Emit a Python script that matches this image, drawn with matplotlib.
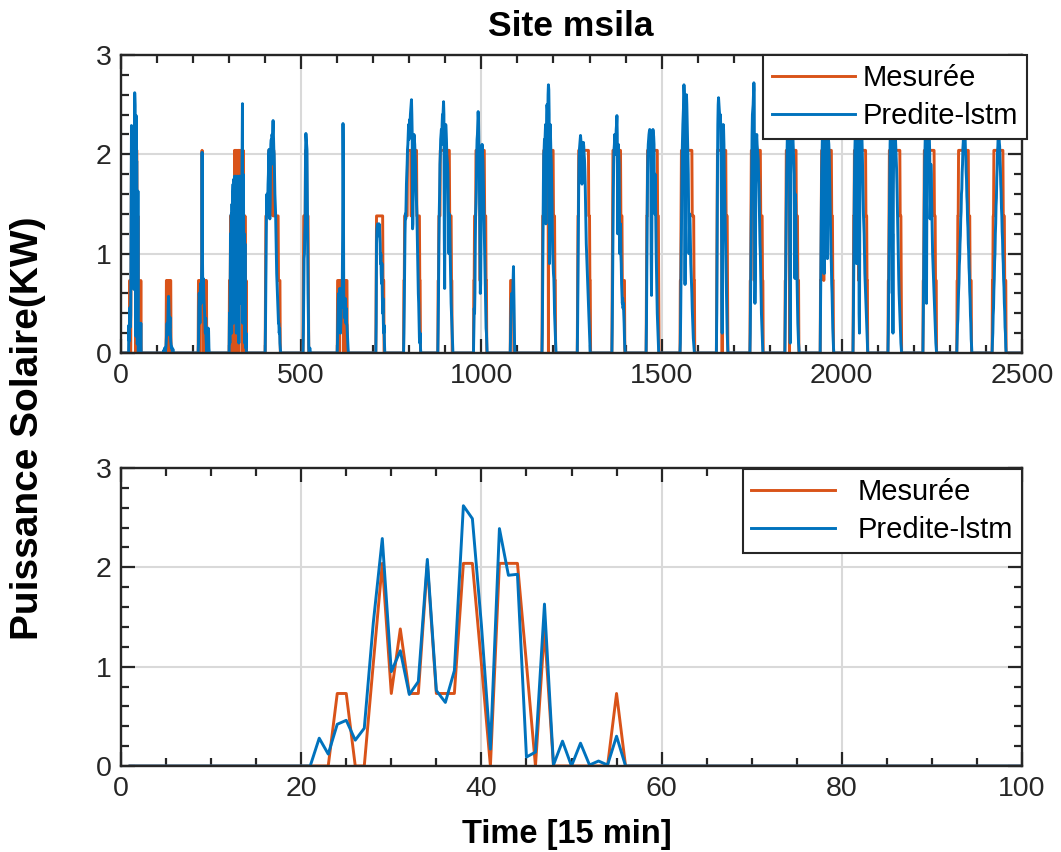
import matplotlib
matplotlib.use('Agg')
import matplotlib.pyplot as plt
import numpy as np
from matplotlib.ticker import MultipleLocator


plt.rcParams['font.family'] = ['Liberation Sans', 'DejaVu Sans']

# Measured power is quantised: each code digit picks one of these levels (KW).
levels = [0.0, 0.73, 1.03, 1.38, 2.04]
n_points = 2496

# First time index of each daily production bump.
day_start = [18, 114, 210, 300, 400, 505, 600, 707, 784, 879, 978, 1080, 1168,
             1266, 1362, 1457, 1551, 1652, 1745, 1842, 1940, 2031, 2128, 2225,
             2319, 2417]

# Measured series, one level code per 15 min step, starting at day_start.
measured_codes = [
    "000000110024131141114420444203000000010000",
    "000000000000" "1110110111011" "00000",
    "00000" "1111011" "11" "1" "4" "1" "11011110111" "0",
    "0101313031" "3303143144" "0434144043" "4414434404" "3130310100",
    "01" "33333333" "444434444444344" "333333333333" "11111" "0",
    "0133333444433331000",
    "011111011111111110111111011100000",
    "0133333333333333333311100",
    "011" "33333333" "44444444443344444444444444" "33333333" "11" "0",
    "0113333" "44444444444444444444444444" "33333" "1100",
    "0113333" "444444444441144444444444" "3333" "110",
    "0111111111000",
    "01333" "444444444444404444444444444" "3333" "11" "0",
    "0133" "4444444444444444444444444444" "333" "110",
    "013" "4444444444444444444444" "3333" "1111111" "0",
    "0133" "4444444444444444444444444444" "333" "10",
    "0113" "444444444444444444444444444444" "33333" "110",
    "013" "444444444444404444444444" "3333" "10",
    "0113" "44444444144444444444444444" "33333" "110",
    "0113" "4444444440444444444444444444" "3333" "1110",
    "0113" "4444441444444444444444444444" "333" "110",
    "0133" "44444444444414444444444444444444" "333" "110",
    "0113" "444444444444444444444444444444" "333" "10",
    "0113" "4444444444444444444444444444" "333" "1110",
    "01133" "4444444444444444444444444444" "3333" "11110",
    "01133" "44444444444444444444444444" "3333" "11110",
]

# LSTM prediction in hundredths of KW, starting at day_start.
predicted_hundredths = [
    "0 0 0 0 28 12 42 46 26 38 144 229 95 116 72 85 208 76 64 96 262 249 142 "
    "17 239 192 193 9 14 163 1 25 0 23 1 5 1 30 0 0 0 0",
    "0 0 0 0 0 3 0 5 2 0 4 8 15 22 30 18 35 48 57 42 30 25 36 20 12 8 5 6 3 0 4",
    "0 0 0 0 0 10 45 60 55 30 62 70 50 65 90 202 100 60 75 70 55 48 40 30 20 "
    "35 15 8 0 12 25 20 25 22 5 0",
    "0 40 10 60 120 50 140 20 150 60 160 170 30 175 80 178 120 60 178 170 20 "
    "175 130 178 40 175 170 10 178 120 178 175 50 176 178 140 200 251 30 180 "
    "150 40 120 10 110 30 5 20 0 0",
    "0 30 80 120 150 160 140 150 170 180 200 205 140 135 150 200 210 215 190 "
    "220 215 225 234 220 205 200 180 160 150 140 120 100 80 70 60 50 40 30 30 "
    "20 25 10 5 0",
    "0 20 60 95 100 120 130 200 221 215 210 205 150 110 60 30 5 0 3 5 2 0",
    "0 20 45 55 60 30 50 65 40 20 30 45 60 55 70 120 231 180 60 45 50 35 55 40 "
    "30 45 30 28 20 10 5 0",
    "0 30 110 125 128 130 125 118 122 130 128 120 110 90 100 80 70 90 60 40 55 "
    "30 20 28 10 0",
    "0 20 50 90 120 140 135 150 170 180 190 205 210 220 230 215 225 235 230 240 "
    "245 250 255 240 220 125 130 180 210 220 215 210 200 190 175 160 150 140 "
    "120 100 80 60 50 30 15 10 20 5 0",
    "0 25 60 110 140 160 190 200 215 220 225 210 230 240 235 245 253 240 120 65 "
    "150 220 230 225 215 200 195 190 180 150 120 100 140 130 110 90 70 50 40 "
    "30 20 10 0",
    "0 20 45 40 60 110 140 150 165 200 215 220 230 243 235 210 200 150 110 60 "
    "70 120 190 205 210 200 195 180 160 140 120 100 80 60 40 25 20 10 0",
    "0 20 40 55 60 55 50 60 75 87 60 30 10 0",
    "0 20 70 130 170 200 205 215 210 220 230 130 200 240 250 245 230 260 270 "
    "265 240 90 180 230 215 200 190 170 150 120 100 90 80 75 60 40 30 20 10 0",
    "0 30 80 130 170 195 205 210 215 219 215 210 200 170 175 205 210 212 208 "
    "200 195 185 170 150 130 110 100 90 80 70 60 50 40 30 20 10 0",
    "0 25 70 120 160 190 205 210 220 215 200 210 225 230 239 220 120 150 210 "
    "200 190 150 100 110 130 100 90 70 60 50 55 45 50 40 30 15 5 0",
    "0 30 90 140 180 200 210 215 220 223 225 224 220 200 100 58 120 200 220 225 "
    "222 218 210 150 140 180 160 130 100 80 60 40 30 20 10 0",
    "0 10 40 80 130 170 200 215 230 240 250 270 260 180 69 150 230 240 260 250 "
    "230 215 200 180 140 100 120 140 130 110 90 80 70 60 45 35 25 15 10 5 0",
    "0 40 120 180 230 250 257 250 245 240 235 240 230 200 150 60 20 90 200 230 "
    "225 210 180 160 140 120 100 80 60 40 20 10 0",
    "0 20 60 100 150 190 220 240 245 250 260 272 265 120 50 80 150 200 215 220 "
    "210 205 200 195 180 170 150 130 110 100 80 60 40 30 20 10 0",
    "0 30 70 110 150 180 200 220 230 240 235 230 245 200 80 10 120 210 230 240 "
    "245 235 225 210 200 190 180 120 75 160 150 120 100 90 70 50 30 20 10 5 0",
    "0 40 90 140 180 200 215 225 235 240 140 80 150 220 230 240 245 240 230 120 "
    "95 180 220 215 210 200 180 160 140 120 100 90 70 60 40 25 15 5 0",
    "0 30 80 130 170 200 215 225 235 230 90 140 200 230 235 240 180 40 20 150 "
    "220 230 240 235 225 215 200 180 160 140 130 120 100 80 70 60 50 40 30 20 "
    "10 0",
    "0 20 60 110 150 190 210 225 235 240 230 150 60 120 20 160 210 230 240 238 "
    "225 215 205 195 185 170 150 130 110 90 75 60 50 40 30 20 10 5 0",
    "0 30 70 110 150 190 210 225 230 180 50 150 215 230 240 238 230 225 215 200 "
    "135 150 190 180 160 140 120 100 90 80 70 60 50 40 30 20 10 5 0",
    "0 15 28 34 50 62 70 88 95 110 118 135 142 160 165 182 190 206 212 224 226 "
    "232 224 220 205 198 182 175 158 150 134 126 110 102 86 78 62 54 38 30 14 "
    "8 0",
    "0 12 20 38 45 64 74 92 100 120 130 148 156 176 185 202 208 220 221 222 212 "
    "208 194 186 170 162 146 138 122 114 98 90 74 66 50 42 26 20 6 0",
]

series_labels = ['Mesurée', 'Predite-lstm']
zoom_points = 100

measured_color = '#D95319'
predicted_color = '#0072BD'
axis_color = '#262626'


def build_series():
    measured = np.zeros(n_points)
    predicted = np.zeros(n_points)
    for start, codes, pred in zip(day_start, measured_codes, predicted_hundredths):
        values = np.array([levels[int(c)] for c in codes])
        measured[start - 1:start - 1 + len(values)] = values
        values = np.array(pred.split(), dtype=float) / 100
        predicted[start - 1:start - 1 + len(values)] = values
    return measured, predicted


def style_axes(ax, x_max, x_major, x_minor):
    ax.set_xlim(0, x_max)
    ax.set_ylim(0, 3)
    ax.xaxis.set_major_locator(MultipleLocator(x_major))
    ax.xaxis.set_minor_locator(MultipleLocator(x_minor))
    ax.yaxis.set_major_locator(MultipleLocator(1))
    ax.yaxis.set_minor_locator(MultipleLocator(0.2))
    ax.tick_params(which='both', direction='in', top=True, right=True,
                   width=1.6, color=axis_color, labelcolor=axis_color,
                   labelsize=20.5)
    ax.tick_params(which='major', length=10, pad=7)
    ax.tick_params(which='minor', length=5.5)
    ax.grid(True, which='major', color='#d9d9d9', linewidth=1.5)
    ax.set_axisbelow(True)
    for spine in ax.spines.values():
        spine.set_linewidth(1.7)
        spine.set_color(axis_color)


def add_legend(ax, anchor, text_pad):
    leg = ax.legend(loc='upper right', bbox_to_anchor=anchor, fontsize=21,
                    frameon=True, fancybox=False, edgecolor=axis_color,
                    framealpha=1, handlelength=2.85, handletextpad=text_pad,
                    borderpad=0.3, labelspacing=0.35, borderaxespad=0)
    leg.get_frame().set_linewidth(1.5)


def main():
    measured, predicted = build_series()
    time = np.arange(1, n_points + 1)

    fig = plt.figure(figsize=(10.61, 8.52), dpi=100)
    ax_top = fig.add_axes([121 / 1061, 1 - 353 / 852, 901 / 1061, 298 / 852])
    ax_bottom = fig.add_axes([121 / 1061, 1 - 766 / 852, 901 / 1061, 298 / 852])

    for ax, count in ((ax_top, n_points), (ax_bottom, zoom_points)):
        ax.plot(time[:count], measured[:count], color=measured_color,
                linewidth=2.1, label=series_labels[0])
        ax.plot(time[:count], predicted[:count], color=predicted_color,
                linewidth=2.1, label=series_labels[1])

    style_axes(ax_top, 2500, 500, 100)
    style_axes(ax_bottom, 100, 20, 5)
    add_legend(ax_top, (1.005, 1.0), 0.25)
    add_legend(ax_bottom, (1.0, 0.995), 0.8)

    fig.text(571 / 1061, 1 - 27 / 852, 'Site msila', ha='center', va='center',
             fontsize=25.5, fontweight='bold')
    fig.text(28 / 1061, 1 - 428 / 852, 'Puissance Solaire(KW)', rotation=90,
             ha='center', va='center', fontsize=28, fontweight='bold')
    fig.text(567 / 1061, 1 - 834 / 852, 'Time [15 min]', ha='center',
             va='center', fontsize=23.5, fontweight='bold')

    fig.savefig('out.png', dpi=100)


if __name__ == '__main__':
    main()
